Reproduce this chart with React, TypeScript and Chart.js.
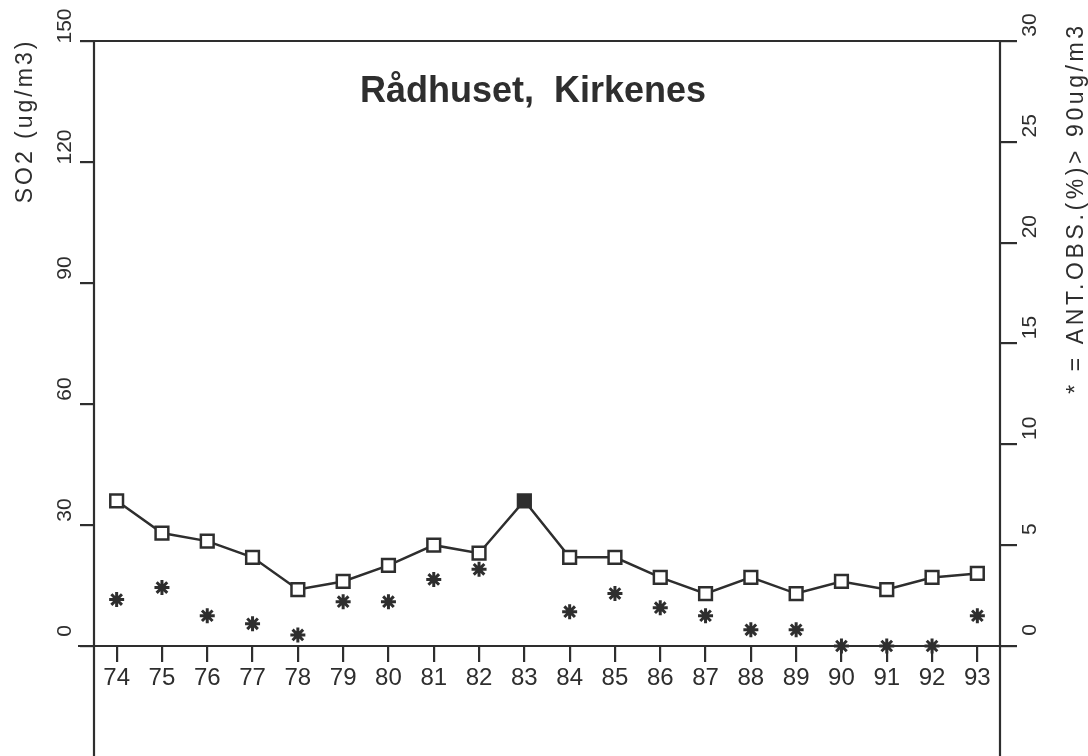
import React, { useEffect, useRef } from 'react';
import { Chart, registerables } from 'chart.js';

Chart.register(...registerables);

const years = ['74', '75', '76', '77', '78', '79', '80', '81', '82', '83', '84', '85', '86', '87', '88', '89', '90', '91', '92', '93'];
const so2Mean = [36, 28, 26, 22, 14, 16, 20, 25, 23, 36, 22, 22, 17, 13, 17, 13, 16, 14, 17, 18];
const pctAbove90 = [2.3, 2.9, 1.5, 1.1, 0.55, 2.2, 2.2, 3.3, 3.8, null, 1.7, 2.6, 1.9, 1.5, 0.8, 0.8, 0, 0, 0, 1.5];
const leftTicks = [0, 30, 60, 90, 120, 150];
const rightTicks = [0, 5, 10, 15, 20, 25, 30];
const chartTitle = 'Rådhuset,  Kirkenes';
const leftTitle = 'SO2 (ug/m3)';
const rightTitle = '* = ANT.OBS.(%)> 90ug/m3';

const INK = '#2e2e2e';

const framePlugin = {
  id: 'framePlugin',
  afterDraw(chart: any) {
    const ctx = chart.ctx;
    const a = chart.chartArea;
    const ys = chart.scales.y;
    const ys2 = chart.scales.y2;
    ctx.save();
    ctx.strokeStyle = INK;
    ctx.lineWidth = 2.2;
    ctx.beginPath();
    ctx.moveTo(a.left - 14, a.top);
    ctx.lineTo(a.right + 17, a.top);
    ctx.moveTo(a.left - 16, a.bottom);
    ctx.lineTo(a.right + 17, a.bottom);
    ctx.moveTo(a.left, a.top);
    ctx.lineTo(a.left, chart.height);
    ctx.moveTo(a.right, a.top);
    ctx.lineTo(a.right, chart.height);
    ctx.stroke();

    ctx.fillStyle = INK;
    ctx.textAlign = 'center';
    ctx.textBaseline = 'middle';
    ctx.font = "21px 'Liberation Sans'";
    for (const v of leftTicks) {
      const y = ys.getPixelForValue(v);
      ctx.save();
      ctx.translate(65, y - 15);
      ctx.rotate(-Math.PI / 2);
      ctx.fillText(String(v), 0, 0);
      ctx.restore();
    }
    for (const v of rightTicks) {
      const y = ys2.getPixelForValue(v);
      ctx.save();
      ctx.translate(1030, y - 16);
      ctx.rotate(-Math.PI / 2);
      ctx.fillText(String(v), 0, 0);
      ctx.restore();
    }

    ctx.font = "23px 'Liberation Sans'";
    (ctx as any).letterSpacing = '3px';
    ctx.save();
    ctx.translate(26, 121);
    ctx.rotate(-Math.PI / 2);
    ctx.fillText(leftTitle, 0, 0);
    ctx.restore();

    (ctx as any).letterSpacing = '3.6px';
    ctx.save();
    ctx.translate(1077, 208);
    ctx.rotate(-Math.PI / 2);
    ctx.fillText(rightTitle, 0, 0);
    ctx.restore();

    (ctx as any).letterSpacing = '0px';
    ctx.font = "bold 36px 'Liberation Sans'";
    ctx.textBaseline = 'alphabetic';
    ctx.fillText(chartTitle, 533, 102);
    ctx.restore();
  },
};

export default function App() {
  const ref = useRef<HTMLCanvasElement | null>(null);

  useEffect(() => {
    if (!ref.current) return;
    const squareFill = so2Mean.map((_, i) => (pctAbove90[i] === null ? INK : '#ffffff'));
    const chart = new Chart(ref.current, {
      type: 'line',
      data: {
        labels: years,
        datasets: [
          {
            label: 'SO2',
            data: so2Mean,
            yAxisID: 'y',
            borderColor: INK,
            borderWidth: 2.5,
            pointStyle: 'rect',
            pointRadius: 9,
            pointBorderWidth: 2.5,
            pointBorderColor: INK,
            pointBackgroundColor: squareFill,
            tension: 0,
            order: 2,
          },
          {
            label: 'Ant. obs > 90',
            data: pctAbove90 as any,
            yAxisID: 'y2',
            showLine: false,
            borderColor: INK,
            backgroundColor: INK,
            pointStyle: 'star',
            pointRadius: 7.5,
            pointBorderWidth: 3,
            pointBorderColor: INK,
            clip: false as any,
            order: 1,
          },
        ],
      },
      options: {
        animation: false,
        responsive: false,
        layout: { padding: { top: 41, left: 0, right: 0, bottom: 0 } },
        plugins: {
          legend: { display: false },
          tooltip: { enabled: false },
          title: { display: false },
        },
        scales: {
          x: {
            type: 'category',
            offset: true,
            border: { display: false },
            grid: {
              display: true,
              drawOnChartArea: false,
              drawTicks: true,
              tickLength: 16,
              color: INK,
              lineWidth: 2.2,
            },
            ticks: {
              color: INK,
              font: { family: 'Liberation Sans', size: 24 },
              padding: 2,
              maxRotation: 0,
              minRotation: 0,
              autoSkip: false,
            },
            afterFit(scale: any) {
              scale.height = 110;
            },
          },
          y: {
            position: 'left',
            min: 0,
            max: 150,
            border: { display: false },
            grid: {
              drawOnChartArea: false,
              drawTicks: true,
              tickLength: 14,
              color: INK,
              lineWidth: 2.2,
            },
            ticks: { stepSize: 30, display: false },
            afterFit(scale: any) {
              scale.width = 94;
            },
          },
          y2: {
            position: 'right',
            min: 0,
            max: 30,
            border: { display: false },
            grid: {
              drawOnChartArea: false,
              drawTicks: true,
              tickLength: 17,
              color: INK,
              lineWidth: 2.2,
            },
            ticks: { stepSize: 5, display: false },
            afterFit(scale: any) {
              scale.width = 88;
            },
          },
        },
      },
      plugins: [framePlugin],
    });
    return () => chart.destroy();
  }, []);

  return (
    <div style={{ position: 'fixed', left: 0, top: 0, width: 1088, height: 756, background: '#ffffff' }}>
      <canvas ref={ref} width={1088} height={756} style={{ display: 'block' }} />
    </div>
  );
}
